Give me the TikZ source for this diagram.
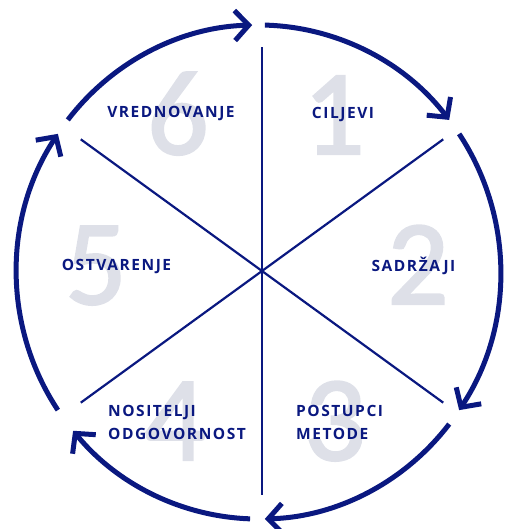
\documentclass[tikz,border=0pt]{standalone}
\usepackage{fontspec}
\setmainfont{Open Sans}
\newfontfamily\labelfont[LetterSpace=10]{Open Sans Bold}
\newfontfamily\numfont[FakeBold=2]{Carlito}
\usetikzlibrary{arrows.meta,calc}
\definecolor{navy}{RGB}{10,24,128}
\definecolor{numgray}{RGB}{222,224,232}
\tikzset{
  ring/.style={draw=navy, line width=5pt, -{Straight Barb[length=14pt,width=30pt,line width=5pt]}},
  spoke/.style={draw=navy, line width=2.2pt},
  big/.style={text=numgray, font=\numfont\fontsize{121}{121}\selectfont, inner sep=0pt, anchor=base},
  lbl/.style={text=navy, font=\labelfont\fontsize{15.5}{23}\selectfont, inner sep=0pt},
}
\begin{document}
\begin{tikzpicture}[x=1pt,y=1pt]
\useasboundingbox (0,0) rectangle (505,529);
% big numbers
\node[big] (n1) at (334,375) {1};
\node[big] (n2) at (418,225) {2};
\node[big] (n3) at (335,69) {3};
\node[big] (n4) at (175,69) {4};
\node[big] (n5) at (96,225) {5};
\node[big] (n6) at (178,375) {6};
% center and spokes
\coordinate (O) at (262,258);
\foreach \a/\n in {90/a,36/b,-36/c,-90/d,-144/e,144/f}{
  \coordinate (s\n) at ($(O)+(\a:224)$);
}
\foreach \n in {a,b,c,d,e,f}{ \draw[spoke] (O) -- (s\n); }
% ring arcs
\coordinate (C) at (258.5,257);
\foreach \s/\e/\n in {88.5/38/1, 34/-34/2, -38/-88.5/3, -92/-140/4, -146/-214/5, -218/-268.5/6}{
  \path (C) ++(\s:242pt and 247pt) coordinate (r\n);
  \draw[ring] (r\n) arc[start angle=\s, end angle=\e, x radius=242pt, y radius=247pt];
}
% labels
\node[lbl, anchor=base] (l1) at (343,410) {CILJEVI};
\node[lbl, anchor=base] (l2) at (413.5,257) {SADRŽAJI};
\node[lbl, anchor=base west] (l3a) at (296,112) {POSTUPCI};
\node[lbl, anchor=base west] (l3b) at (296,89) {METODE};
\node[lbl, anchor=base west] (l4a) at (108,112) {NOSITELJI};
\node[lbl, anchor=base west] (l4b) at (108,89) {ODGOVORNOST};
\node[lbl, anchor=base] (l5) at (116.5,258) {OSTVARENJE};
\node[lbl, anchor=base] (l6) at (171,411) {VREDNOVANJE};
\end{tikzpicture}
\end{document}
